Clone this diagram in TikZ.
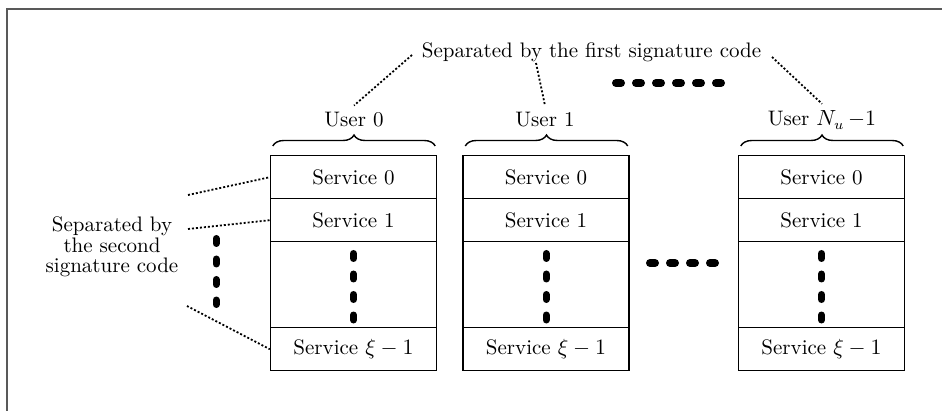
\documentclass[tikz,border=0pt]{standalone}
\usetikzlibrary{decorations.pathreplacing,calc}
\begin{document}
\begin{tikzpicture}[x=0.5pt,y=-0.5pt,
  every node/.style={font=\fontsize{10.5}{12}\selectfont},
  row/.style={draw, line width=0.7pt, rectangle, minimum width=83pt, minimum height=21.5pt, inner sep=0pt, anchor=north},
  tall/.style={row, minimum height=43pt},
  fine/.style={line width=0.9pt, dash pattern=on 1pt off 1pt},
  bigv/.style={line width=3.5pt, line cap=round, dash pattern=on 2.5pt off 7.75pt},
  bigh/.style={line width=4pt, line cap=round, dash pattern=on 2.5pt off 7.5pt},
  ubrace/.style={decorate, decoration={brace, amplitude=5.5pt}, line width=0.7pt}]
\useasboundingbox (0,0) rectangle (942,411);
\clip (0,0) rectangle (942,411);
\draw[line width=1.4pt, black!65] (7,9) rectangle (990,460);

\foreach \i/\cx in {1/353.5, 2/546, 3/821.5} {
  \node[row] (b\i-s0) at (\cx,155) {Service 0};
  \node[row] (b\i-s1) at (\cx,198) {Service 1};
  \node[tall] (b\i-m) at (\cx,241) {};
  \node[row] (b\i-x) at (\cx,327) {Service $\xi-1$};
  \draw[bigv] ($(b\i-m.north)+(0,12.5)$) -- ($(b\i-m.south)+(0,-7.5)$);
  \draw[ubrace] ($(b\i-s0.north west)+(3,-9)$) -- ($(b\i-s0.north east)+(-2,-9)$);
}

\node (u1) at (354,120) {User 0};
\node (u2) at (545,120) {User 1};
\node (u3) at (822,120) {User $N_u\,{-}1$};

\node (top) at (591.5,52) {Separated by the first signature code};
\node[align=center, font=\fontsize{10.5}{10.3}\selectfont] (left) at (112,247) {Separated by\\the second\\signature code};

\draw[bigh] (616,83) -- (722,83);
\draw[bigh] (650,263) -- (715,263);
\draw[bigv] (216,238.5) -- (216,304.5);

\coordinate (l0) at (188,195);
\coordinate (l1) at (188,229);
\coordinate (l2) at (187,306);
\draw[fine] (l0) -- (b1-s0.west);
\draw[fine] (l1) -- (b1-s1.west);
\draw[fine] (l2) -- (b1-x.west);

\coordinate (t0) at (412,55);
\coordinate (t1) at (536,63);
\coordinate (t2) at (772,57);
\draw[fine] (t0) -- (u1.north);
\draw[fine] (t1) -- (u2.north);
\draw[fine] (t2) -- (u3.north);
\end{tikzpicture}
\end{document}
